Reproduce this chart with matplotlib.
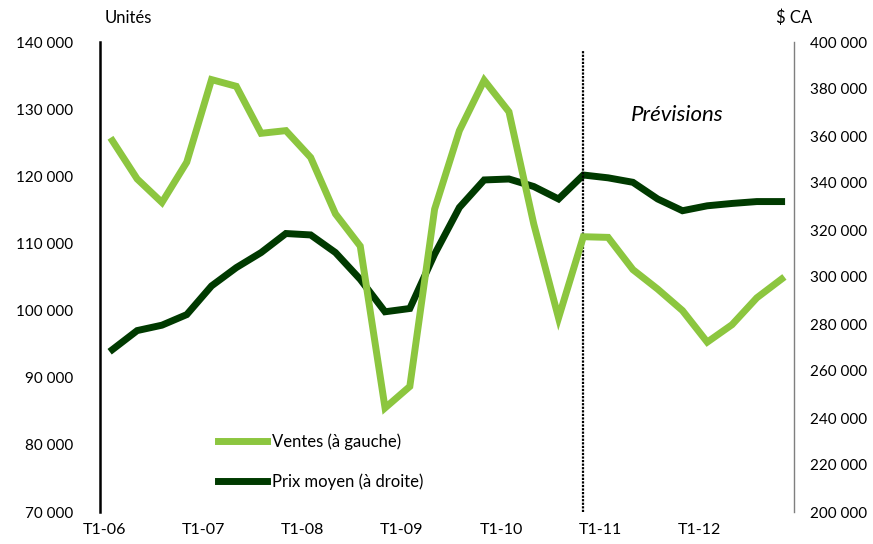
import matplotlib
matplotlib.use("Agg")
import matplotlib.pyplot as plt
from matplotlib.ticker import FuncFormatter

plt.rcParams["font.family"] = ["Lato", "DejaVu Sans"]

# Quarterly categories, Q1-2006 through Q4-2012
years = ["06", "07", "08", "09", "10", "11", "12"]
quarters = [f"T{q}-{y}" for y in years for q in range(1, 5)]

# Unit sales (left axis)
ventes = [125300, 119600, 116100, 122100, 134400, 133400, 126400, 126800,
          122800, 114400, 109600, 85500, 88700, 115100, 126800, 134300,
          129600, 112900, 98900, 111000, 110900, 106100, 103200, 100000,
          95300, 97900, 101900, 104700]

# Average price in CAD (right axis)
prix = [269100, 277200, 279500, 284000, 296200, 304000, 310400, 318500,
        317900, 310400, 299000, 285200, 286600, 309700, 329600, 341300,
        341700, 338500, 333200, 343400, 342200, 340300, 333200, 328200,
        330300, 331300, 332100, 332100]

forecast_start = "T4-10"
tick_labels = ["T1-06", "T1-07", "T1-08", "T1-09", "T1-10", "T1-11", "T1-12"]

light_green = "#8CC63F"
dark_green = "#003A00"

fig = plt.figure(figsize=(8.73, 5.44), dpi=100)
ax = fig.add_axes([100 / 873, 1 - 512 / 544, 694 / 873, 470 / 544])
ax2 = ax.twinx()

x = list(range(len(quarters)))
l1, = ax.plot(x, ventes, color=light_green, lw=5, solid_joinstyle="miter",
              label="Ventes (à gauche)")
l2, = ax2.plot(x, prix, color=dark_green, lw=5, solid_joinstyle="miter",
               label="Prix moyen (à droite)")
ax.set_zorder(2)
ax.patch.set_visible(False)
ax2.set_zorder(1)

ax.set_xlim(-0.5, len(quarters) - 0.5)
ax.set_ylim(70000, 140000)
ax2.set_ylim(200000, 400000)
ax.set_yticks(range(70000, 140001, 10000))
ax2.set_yticks(range(200000, 400001, 20000))

fmt = FuncFormatter(lambda v, p: f"{int(v):,}".replace(",", " "))
ax.yaxis.set_major_formatter(fmt)
ax2.yaxis.set_major_formatter(fmt)

# Category labels sit slightly left of their data point
label_offset = 0.32
ax.set_xticks([quarters.index(t) - label_offset for t in tick_labels])
ax.set_xticklabels(tick_labels)

ax.tick_params(axis="y", length=0, pad=19.5, labelsize=11)
ax.tick_params(axis="x", length=0, pad=8, labelsize=11.5)
ax2.tick_params(axis="y", length=0, pad=11.5, labelsize=11)

for a in (ax, ax2):
    for s in a.spines.values():
        s.set_visible(False)
ax.spines["left"].set_visible(True)
ax.spines["left"].set_linewidth(1.8)
ax.spines["left"].set_color("black")
ax2.spines["right"].set_visible(True)
ax2.spines["right"].set_linewidth(1.0)
ax2.spines["right"].set_color("#7f7f7f")

# Forecast boundary
fx = quarters.index(forecast_start)
ax.plot([fx, fx], [70000, 138600], color="black", lw=1.6, ls=(0, (1, 0.6)),
        zorder=1)
ax.text(fx + 3.78, 129100, "Prévisions", style="italic", fontsize=16,
        ha="center", va="center")

fig.text(105 / 873, 1 - 18 / 544, "Unités", fontsize=12, ha="left", va="center")
fig.text(776 / 873, 1 - 18 / 544, "$ CA", fontsize=12, ha="left", va="center")

leg = ax.legend(handles=[l1, l2], loc="upper left",
                bbox_to_anchor=(218 / 873, 1 - 433 / 544),
                bbox_transform=fig.transFigure, frameon=False,
                fontsize=12, handlelength=2.95, handletextpad=0.3,
                labelspacing=1.45, borderpad=0, borderaxespad=0)

fig.savefig("out.png", dpi=100, facecolor="white")
